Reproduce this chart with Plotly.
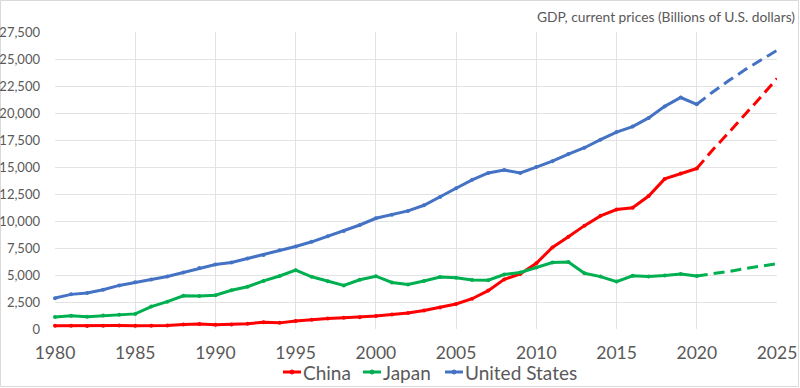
import plotly.graph_objects as go

years = list(range(1980, 2021))
proj_years = list(range(2020, 2026))

china = [305, 290, 284, 304, 314, 310, 301, 327, 410, 459, 398, 415, 495, 623, 568,
         737, 868, 965, 1034, 1099, 1215, 1345, 1487, 1706, 1994, 2314, 2803, 3555,
         4594, 5102, 6087, 7552, 8532, 9570, 10476, 11062, 11233, 12310, 13895, 14402, 14861]
japan = [1105, 1218, 1134, 1243, 1318, 1399, 2079, 2532, 3072, 3054, 3133, 3584, 3909,
         4454, 4907, 5449, 4833, 4415, 4033, 4562, 4888, 4304, 4115, 4446, 4815, 4755,
         4530, 4515, 5038, 5231, 5700, 6157, 6203, 5156, 4850, 4389, 4927, 4860, 4955,
         5082, 4911]
usa = [2857, 3207, 3343, 3634, 4037, 4339, 4580, 4855, 5236, 5642, 5963, 6158, 6520,
       6859, 7287, 7640, 8073, 8578, 9063, 9631, 10252, 10582, 10936, 11458, 12214,
       13037, 13815, 14452, 14713, 14449, 14992, 15543, 16197, 16785, 17527, 18238,
       18745, 19543, 20612, 21433, 20807]

china_proj = [14861, 16600, 18200, 19800, 21500, 23200]
japan_proj = [4911, 5100, 5330, 5600, 5850, 6040]
usa_proj = [20807, 21950, 23000, 24000, 24900, 25800]

names = ["China", "Japan", "United States"]
colors = ["#ff0000", "#00b050", "#4472c4"]

TXT = "#595959"
FONT = "Lato"

fig = go.Figure()
for name, col, actual, proj in zip(names, colors, [china, japan, usa],
                                   [china_proj, japan_proj, usa_proj]):
    fig.add_trace(go.Scatter(
        x=years, y=actual, name=name, mode="lines+markers",
        line=dict(color=col, width=3),
        marker=dict(color=col, size=4),
        cliponaxis=False, legendgroup=name,
    ))
    fig.add_trace(go.Scatter(
        x=proj_years, y=proj, name=name + " (projection)", mode="lines",
        line=dict(color=col, width=3, dash="11px,6px"),
        showlegend=False, cliponaxis=False, legendgroup=name,
    ))

L, R, T, B = 55, 23, 32, 59
W, H = 800, 388
pw, ph = W - L - R, H - T - B


def px_x(v):
    return (v - L) / pw


def px_y(v):
    return (H - B - v) / ph


# hand-built legend row (Excel style: short line with marker, text right after)
legend_starts = [283, 363, 445]
legend_y = 372
shapes = [dict(type="rect", xref="paper", yref="paper",
               x0=px_x(0.5), x1=px_x(W - 1.5), y0=px_y(H - 1.5), y1=px_y(0.5),
               line=dict(color="#d9d9d9", width=1), layer="below")]
annotations = [dict(text="GDP, current prices (Billions of U.S. dollars)",
                    xref="paper", yref="paper", x=px_x(797), xanchor="right",
                    y=px_y(17), yanchor="middle", showarrow=False,
                    font=dict(size=13.8, color=TXT, family=FONT))]
for name, col, xs in zip(names, colors, legend_starts):
    shapes.append(dict(type="line", xref="paper", yref="paper",
                       x0=px_x(xs), x1=px_x(xs + 18), y0=px_y(legend_y), y1=px_y(legend_y),
                       line=dict(color=col, width=3)))
    shapes.append(dict(type="circle", xref="paper", yref="paper",
                       x0=px_x(xs + 7), x1=px_x(xs + 11),
                       y0=px_y(legend_y + 2), y1=px_y(legend_y - 2),
                       fillcolor=col, line=dict(color=col, width=1)))
    annotations.append(dict(text=name, xref="paper", yref="paper",
                            x=px_x(xs + 18), xanchor="left", xshift=0,
                            y=px_y(legend_y), yanchor="middle", showarrow=False,
                            font=dict(size=19, color=TXT, family=FONT)))

fig.update_layout(
    width=W, height=H,
    margin=dict(l=L, r=R, t=T, b=B, autoexpand=False),
    paper_bgcolor="white", plot_bgcolor="white",
    font=dict(family=FONT, color=TXT),
    showlegend=False,
    xaxis=dict(range=[1980, 2025], dtick=5, tick0=1980, showgrid=True,
               gridcolor="#e3e3e3", gridwidth=1, zeroline=False, showline=False,
               ticks="", ticklabelstandoff=11,
               tickfont=dict(size=17.5, color=TXT, family=FONT)),
    yaxis=dict(range=[0, 27500], dtick=2500, tick0=0, tickformat=",",
               showgrid=True, gridcolor="#e3e3e3", gridwidth=1, zeroline=False,
               showline=False, ticks="", ticklabelstandoff=14,
               tickfont=dict(size=13, color=TXT, family=FONT)),
    annotations=annotations,
    shapes=shapes,
)

fig.write_html("out.html", config={"displayModeBar": False},
               post_script="document.body.style.margin='0';document.body.style.overflow='hidden';")
